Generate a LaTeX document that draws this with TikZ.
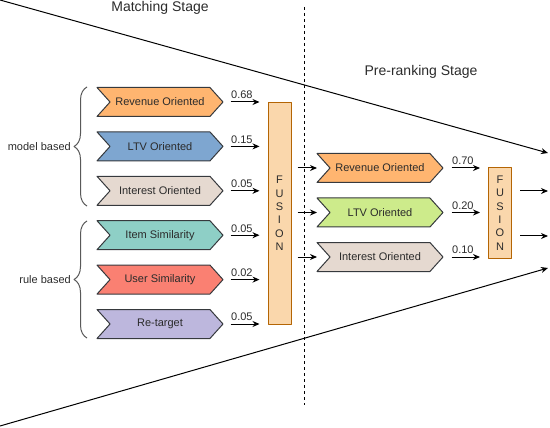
\documentclass[tikz,border=0pt]{standalone}
\usepackage{fontspec}
\setmainfont{Liberation Sans}
\usetikzlibrary{shapes.symbols,arrows.meta,decorations.pathreplacing}
% colours of the boxes
\definecolor{revColor}{HTML}{FFB570}
\definecolor{ltvColor}{HTML}{7EA6D0}
\definecolor{intColor}{HTML}{E5D9D0}
\definecolor{itemColor}{HTML}{8ECFC6}
\definecolor{userColor}{HTML}{FA8072}
\definecolor{retColor}{HTML}{BDB7DD}
\definecolor{ltvbColor}{HTML}{CDEB8B}
\definecolor{fusFill}{HTML}{FAD7AC}
\definecolor{fusLine}{HTML}{B46504}
\definecolor{chevLine}{HTML}{36393D}
\definecolor{txtGray}{HTML}{2B2B2B}
\begin{document}
\begin{tikzpicture}[x=1pt, y=-1pt, line join=round,
  chev/.style={signal, signal from=west, signal to=east, signal pointer angle=96,
    draw=chevLine, line width=1pt, minimum width=126pt, minimum height=29pt,
    inner sep=0pt, text=txtGray, font=\fontsize{11}{13}\selectfont},
  fusbox/.style={draw=fusLine, fill=fusFill, line width=1pt, inner sep=0pt,
    minimum width=23pt, text=txtGray, align=center,
    font=\fontsize{11}{13.4}\selectfont},
  flow/.style={-{Stealth[length=7pt,width=6pt]}, line width=1pt, draw=black},
  wlabel/.style={anchor=south west, inner xsep=0pt, inner ysep=2.5pt, text=txtGray,
    font=\fontsize{11}{13}\selectfont},
  grp/.style={decorate, decoration={brace, amplitude=13pt}, draw=black!65, line width=1pt},
  grplabel/.style={anchor=east, inner sep=1pt, text=txtGray, font=\fontsize{11}{13}\selectfont},
  stage/.style={text=txtGray, font=\fontsize{14}{16}\selectfont}]
\useasboundingbox (0,0) rectangle (550,428);
% Funnel outline
\draw[flow] (0,0) -- (548,153);
\draw[flow] (0,426) -- (548,268);
% Stage split
\draw[dashed, line width=0.8pt] (304,7) -- (304,405);
\node[stage] (matchTitle) at (160,8) {Matching Stage};
\node[stage] (preTitle) at (421,72) {Pre-ranking Stage};

% Matching stage channels
\node[chev, fill=revColor]  (mRev)  at (160,102)   {Revenue Oriented};
\node[chev, fill=ltvColor]  (mLtv)  at (160,146.4) {LTV Oriented};
\node[chev, fill=intColor]  (mInt)  at (160,190.8) {Interest Oriented};
\node[chev, fill=itemColor] (mItem) at (160,235.2) {Item Similarity};
\node[chev, fill=userColor] (mUser) at (160,279.6) {User Similarity};
\node[chev, fill=retColor]  (mRet)  at (160,324)   {Re-target};
\node[fusbox, minimum height=221pt] (fusA) at (279.5,213.5) {F\\U\\S\\I\\O\\N};

% Weights into the first fusion
\draw[flow] ([xshift=7pt]mRev.east)  -- node[wlabel, pos=0] {0.68} ([xshift=-8pt]mRev.east -| fusA.west);
\draw[flow] ([xshift=7pt]mLtv.east)  -- node[wlabel, pos=0] {0.15} ([xshift=-8pt]mLtv.east -| fusA.west);
\draw[flow] ([xshift=7pt]mInt.east)  -- node[wlabel, pos=0] {0.05} ([xshift=-8pt]mInt.east -| fusA.west);
\draw[flow] ([xshift=7pt]mItem.east) -- node[wlabel, pos=0] {0.05} ([xshift=-8pt]mItem.east -| fusA.west);
\draw[flow] ([xshift=7pt]mUser.east) -- node[wlabel, pos=0] {0.02} ([xshift=-8pt]mUser.east -| fusA.west);
\draw[flow] ([xshift=7pt]mRet.east)  -- node[wlabel, pos=0] {0.05} ([xshift=-8pt]mRet.east -| fusA.west);

% Groups
\coordinate (modelTop) at (87,87);
\coordinate (modelBot) at (87,206);
\coordinate (ruleTop) at (87,221);
\coordinate (ruleBot) at (87,338);
\draw[grp] (modelBot) -- (modelTop);
\draw[grp] (ruleBot) -- (ruleTop);
\node[grplabel] (modelLbl) at (72,147) {model based};
\node[grplabel] (ruleLbl) at (72,279.5) {rule based};

% Pre-ranking stage channels
\node[chev, fill=revColor]  (pRev) at (380,168)   {Revenue Oriented};
\node[chev, fill=ltvbColor] (pLtv) at (380,212.5) {LTV Oriented};
\node[chev, fill=intColor]  (pInt) at (380,257)   {Interest Oriented};
\node[fusbox, minimum height=90pt] (fusB) at (500,213) {F\\U\\S\\I\\O\\N};

% From the first fusion into pre-ranking
\draw[flow] ([xshift=6pt]fusA.east |- pRev) -- ([xshift=-63pt]pRev.center);
\draw[flow] ([xshift=6pt]fusA.east |- pLtv) -- ([xshift=-63pt]pLtv.center);
\draw[flow] ([xshift=6pt]fusA.east |- pInt) -- ([xshift=-63pt]pInt.center);

% Weights into the second fusion
\draw[flow] ([xshift=8pt]pRev.east) -- node[wlabel, pos=0] {0.70} ([xshift=-8pt]pRev.east -| fusB.west);
\draw[flow] ([xshift=8pt]pLtv.east) -- node[wlabel, pos=0] {0.20} ([xshift=-8pt]pLtv.east -| fusB.west);
\draw[flow] ([xshift=8pt]pInt.east) -- node[wlabel, pos=0] {0.10} ([xshift=-8pt]pInt.east -| fusB.west);

% Output
\coordinate (outA) at (548,191);
\coordinate (outB) at (548,236);
\draw[flow] ([xshift=8pt]fusB.east |- outA) -- (outA);
\draw[flow] ([xshift=8pt]fusB.east |- outB) -- (outB);
\end{tikzpicture}
\end{document}
